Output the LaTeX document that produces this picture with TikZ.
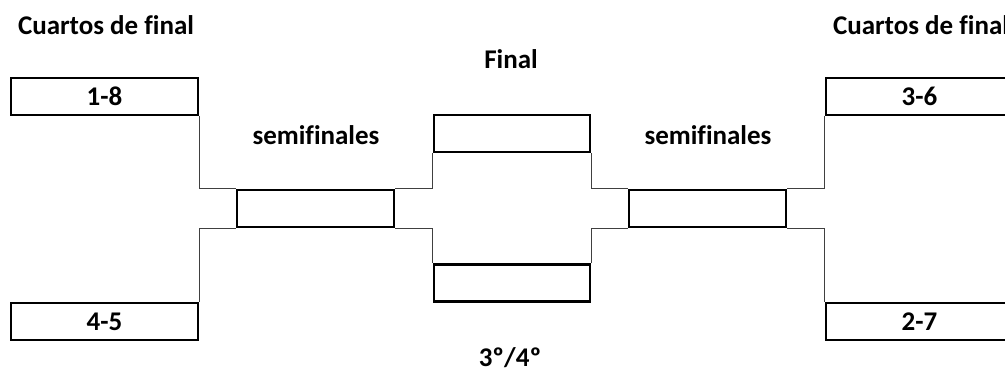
\documentclass[tikz,border=0pt]{standalone}
\usepackage{fontspec}
\setmainfont[Ligatures=CommonOff]{Carlito}
\usetikzlibrary{positioning}
\tikzstyle{team} = [rectangle, minimum width=187pt, minimum height=37pt, inner sep=0pt, text centered, draw=black, line width=2.5pt, fill=white]
\tikzstyle{match} = [rectangle, minimum width=157pt, minimum height=37pt, inner sep=0pt, draw=black, line width=2.5pt, fill=white]
\tikzstyle{title} = [inner sep=0pt]
\tikzstyle{link} = [draw=black!75, line width=1.3pt]

\begin{document}
\begin{tikzpicture}[x=1pt, y=-1pt, font=\bfseries\fontsize{27}{30}\selectfont]
			\useasboundingbox (0,0) rectangle (1005,372);
			% cuartos
			\node (q18) [team] at (104.5,96.5) {1-8};
			\node (q45) [team] at (104.5,321.5) {4-5};
			\node (q36) [team] at (919.5,96.5) {3-6};
			\node (q27) [team] at (919.5,321.5) {2-7};
			% semis, final, 3/4
			\node (semiL) [match] at (315.5,208.5) {};
			\node (semiR) [match] at (707.5,208.5) {};
			\node (final) [match, minimum width=156pt] at (512,133.5) {};
			\node (third) [match, minimum width=156pt] at (512,283) {};
			
			% labels
			\node (tq1) [title] at (106,25) {Cuartos de final};
			\node (tq2) [title] at (921,25) {Cuartos de final};
			\node (tsl) [title] at (316,135) {semifinales};
			\node (tsr) [title] at (708,135) {semifinales};
			\node (tfin) [title] at (511,59) {Final};
			\node (t34) [title] at (510,358) {3º/4º};
			
			%lines
			\draw [link] (q18.south east) |- (semiL.north west);
			\draw [link] (semiL.south west) -| (q45.north east);
			\draw [link] (semiL.north east) -| (final.south west);
			\draw [link] (semiL.south east) -| (third.north west);
			\draw [link] (final.south east) |- (semiR.north west);
			\draw [link] (third.north east) |- (semiR.south west);
			\draw [link] (semiR.north east) -| (q36.south west);
			\draw [link] (semiR.south east) -| (q27.north west);
			
		\end{tikzpicture}
\end{document}
